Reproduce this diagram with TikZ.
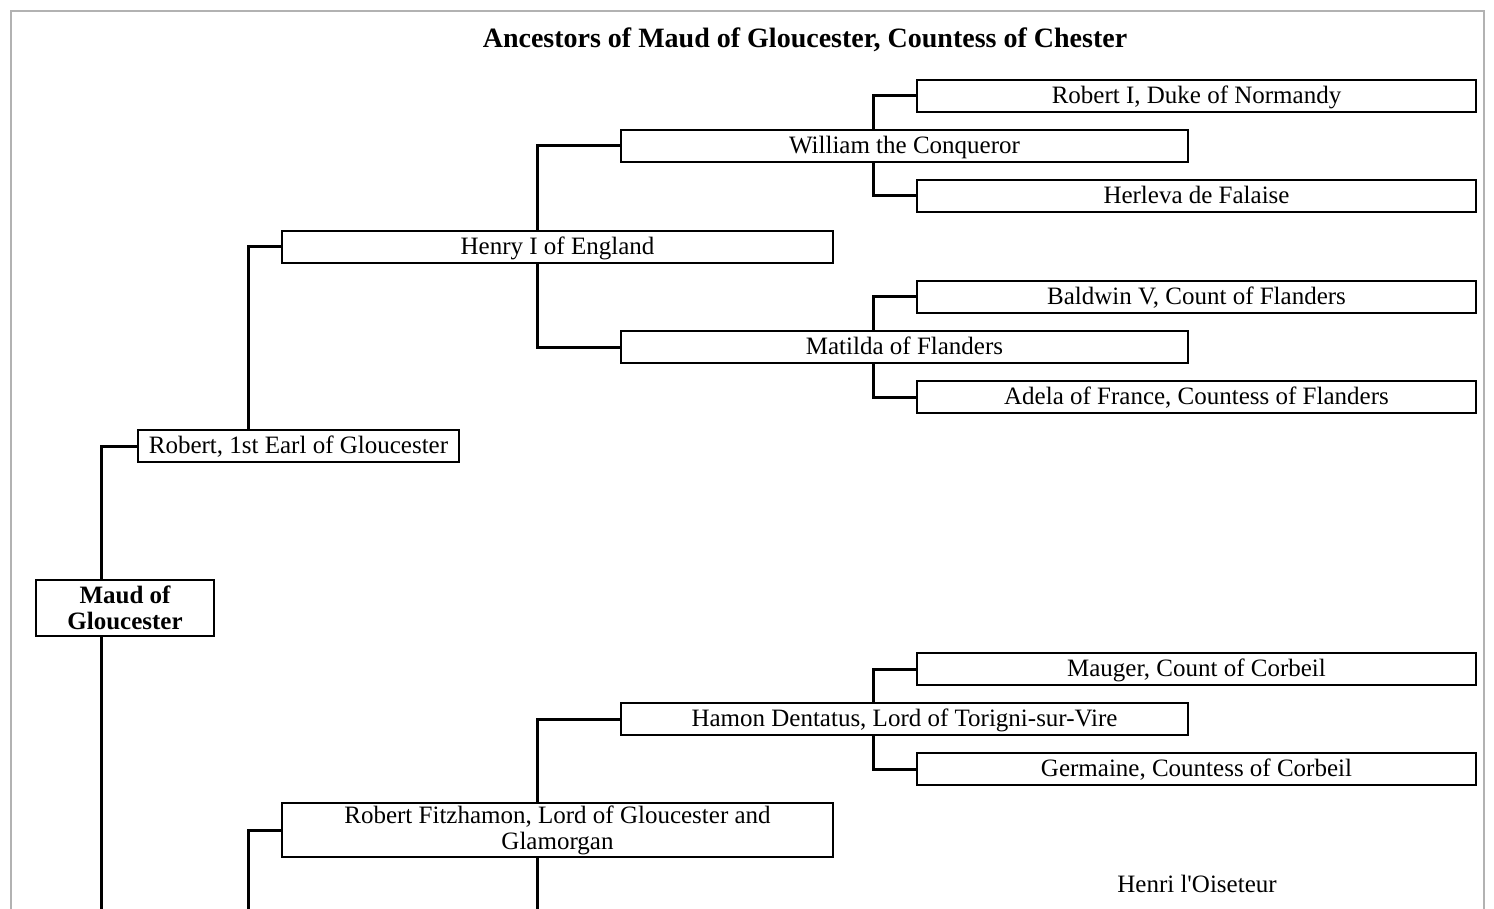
\documentclass[tikz,border=0pt]{standalone}
\usepackage{fontspec}
\setmainfont{Liberation Serif}
\begin{document}
\begin{tikzpicture}[x=1pt,y=-1pt,
  person/.style={draw=black, line width=2.4pt, fill=white, inner sep=0pt, minimum height=32pt,
    align=center, font=\fontsize{25}{26}\selectfont},
  single/.style={text height=18.5pt, text depth=3pt},
  link/.style={draw=black, line width=3pt},
  frame/.style={draw=black!30, line width=2pt}]
\useasboundingbox (0,0) rectangle (1494,909);
\draw[frame] (11,909) -- (11,11) -- (1484,11) -- (1484,909);
\node[font=\fontsize{28}{30}\selectfont\bfseries] (title) at (805,40) {Ancestors of Maud of Gloucester, Countess of Chester};
% generation 0
\node[person, minimum width=178pt, minimum height=56pt, font=\fontsize{25}{26}\selectfont\bfseries] (maud) at (125,608) {Maud of\\Gloucester};
% generation 1
\node[person, single, minimum width=321pt] (earl) at (298.5,446) {Robert, 1st Earl of Gloucester};
% generation 2
\node[person, single, minimum width=551pt] (henry) at (557.5,247) {Henry I of England};
\node[person, minimum width=551pt, minimum height=54pt] (fitz) at (557.5,830) {Robert Fitzhamon, Lord of Gloucester and\\Glamorgan};
% generation 3
\node[person, single, minimum width=567pt] (william) at (904.5,146) {William the Conqueror};
\node[person, single, minimum width=567pt] (matilda) at (904.5,347) {Matilda of Flanders};
\node[person, single, minimum width=567pt] (hamon) at (904.5,719) {Hamon Dentatus, Lord of Torigni-sur-Vire};
% generation 4
\node[person, single, minimum width=559pt] (robert1) at (1196.5,96) {Robert I, Duke of Normandy};
\node[person, single, minimum width=559pt] (herleva) at (1196.5,196) {Herleva de Falaise};
\node[person, single, minimum width=559pt] (baldwin) at (1196.5,297) {Baldwin V, Count of Flanders};
\node[person, single, minimum width=559pt] (adela) at (1196.5,397) {Adela of France, Countess of Flanders};
\node[person, single, minimum width=559pt] (mauger) at (1196.5,669) {Mauger, Count of Corbeil};
\node[person, single, minimum width=559pt] (germaine) at (1196.5,769) {Germaine, Countess of Corbeil};
\node[font=\fontsize{25}{26}\selectfont, single] (henri) at (1197,885) {Henri l\textquotesingle Oiseteur};
% free ends at the bottom edge
\coordinate (b1) at (101,909);
\coordinate (b2) at (248,909);
\coordinate (b3) at (537,909);
% connectors
\draw[link] ([xshift=-24pt]maud.north) |- (earl.west);
\draw[link] ([xshift=-24pt]maud.south) -- (b1);
\draw[link] ([xshift=-50.5pt]earl.north) |- (henry.west);
\draw[link] (b2) |- (fitz.west);
\draw[link] ([xshift=-20.5pt]henry.north) |- (william.west);
\draw[link] ([xshift=-20.5pt]henry.south) |- (matilda.west);
\draw[link] ([xshift=-20.5pt]fitz.north) |- (hamon.west);
\draw[link] ([xshift=-20.5pt]fitz.south) -- (b3);
\draw[link] ([xshift=-31.5pt]william.north) |- (robert1.west);
\draw[link] ([xshift=-31.5pt]william.south) |- (herleva.west);
\draw[link] ([xshift=-31.5pt]matilda.north) |- (baldwin.west);
\draw[link] ([xshift=-31.5pt]matilda.south) |- (adela.west);
\draw[link] ([xshift=-31.5pt]hamon.north) |- (mauger.west);
\draw[link] ([xshift=-31.5pt]hamon.south) |- (germaine.west);
\end{tikzpicture}
\end{document}
